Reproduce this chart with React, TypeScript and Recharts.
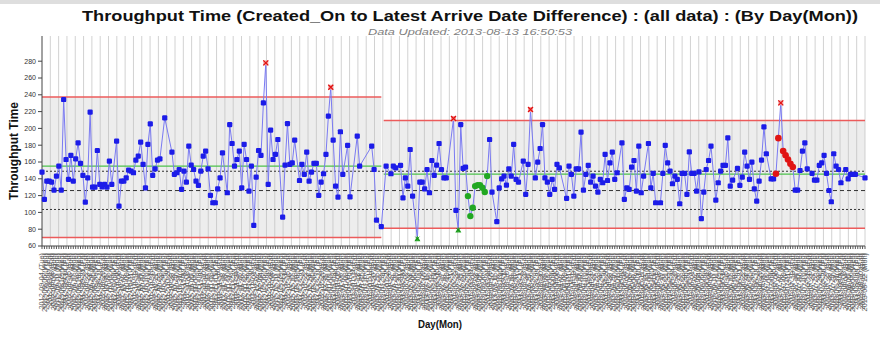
import React from 'react';
import { ComposedChart, Line, XAxis, YAxis, CartesianGrid, ReferenceLine, ReferenceArea } from 'recharts';

// Daily throughput time values (null = no data that day)
const values: (number | null)[] = [
  148, 115.4, 137.2, 137.2, 136, 126.5, 143.2, 155, 126.5, 234.4,
  163, 139.2, 167.8, 137.2, 163.8, 182.8, 158.3, 144, 112.3, 141.2,
  219.3, 130.1, 130.1, 173.7, 133.3, 130.5, 133.3, 130.1, 161, 133.3,
  null, 184.8, 107.5, 137.2, 137.2, 141.2, 150.3, 149.1, 147.2, 162.2,
  167, 183.6, 157.1, 129.3, 180.9, 205.4, 144, 151.9, 162.2, 163.8,
  null, 212.6, null, null, 171.7, 145.2, 147.2, 151.1, 127.3, 149.1,
  136, 178.9, 156.3, 151.1, 137.2, 132.1, 149.1, 167, 173, 151.9,
  120.2, 111.5, 111.5, 128.1, 141.2, 170.9, null, 123.4, 204.6, 182,
  155.1, 163, 172.9, 129.3, 180.9, 163, 125.4, 155.1, 84.5, 142,
  173.7, 167.8, 230.4, 278, 133.3, 197.9, 163, 169, 186.8, null,
  94.4, 156.3, 205.8, 157.1, 159, 186, null, 138, 157.1, 145.2,
  171.7, 137.2, 148, 158.3, 158.3, 120.2, 136, 146, 169, 214.5,
  249, 186, 131.3, 118.2, 196, 145.2, null, 179.7, 118.6, null,
  null, 190.8, 155.1, null, null, null, null, 178.9, 151.1, 90.9,
  null, 83, null, 155.1, null, 146, 155.1, 153.1, null, 155.9,
  117.4, 141.2, 131.3, 174.9, 119.4, null, 68.7, 136, 136, 128.1,
  151.1, 123.4, 161.8, 144, 156.3, 182, 151.1, 141.2, 141.2, null,
  null, 211.8, 102.4, 79, 204.6, 152.3, 153.9, 119.4, 95.6, 105.5,
  131.3, 132.5, 132.5, 129.3, 124.2, 143.2, 186.8, 124.2, null, 88.9,
  129.3, 140, 143.2, 132.5, 151.9, 143.2, 180.9, 139.2, 136, null,
  161, 121.4, 157.1, 222.5, null, 141.2, 159.8, 176.1, 204.6, 141.2,
  136, 121.4, 139.2, 127.3, 157.1, 153.1, null, null, 116.6, 155.1,
  145.2, 119.4, 151.9, 151.9, 195.5, 126.5, 145.2, 155.9, 136, 143.2,
  131.3, 124.2, 139.2, 135.3, 169, 138, 159, 171.7, 139.2, 147.2,
  null, 182.8, 115.4, 129.3, 127.3, 153.9, 161.8, 125.4, 178.9, 123.4,
  143.2, null, 182, 129.3, 146.4, 111.5, null, 111.5, 146.4, 179.7,
  159, 149.1, 134.1, 143.2, 139.2, 110.3, 146.4, 146.4, 121.4, 172.1,
  146.4, 146.4, 125.4, 148.3, 92.5, 124.2, 151.1, 161.8, 178.9, null,
  114.6, 135.3, 149.1, 155.9, 155.9, 188.8, 131.3, 138.4, null, 152.3,
  132.1, 142, 171.7, 155.1, 139.2, 159.8, 128.1, 113.5, 137.2, 162.2,
  201.9, 169.8, null, 140, 140, 146, 188.4, 230.4, 173, 168,
  163, 158, 154, 126.5, 126.5, 149.9, 172.9, 182.8, 151.9, null,
  146.4, 138.4, 138.4, 155.9, 159, 167.8, 146.4, 126.1, 112.7, 169.8,
  155.1, 151.1, 135.3, null, 151.1, 140, 145.2, 145.2, 145.2, null,
  null, null, 141.2,
];

// Control limit segments
const segmentStarts = [0, 142];
const uclValues = [237.5, 209.5];
const clValues = [155, 145.5];
const lclValues = [70, 81];
const refDotted = [149, 103.5];
const refDashed = [126];

// Rule flags (indices into values)
const outOfControlIdx = [93, 120, 171, 203, 307];
const belowLimitIdx = [156, 173];
const runRuleIdx = [177, 178, 179, 180, 181, 182, 183, 184, 185];
const trendIdx = [305, 306, 308, 309, 310, 311, 312];

const yTicks = [60, 80, 100, 120, 140, 160, 180, 200, 220, 240, 260, 280];

const WEEK = ['Sun', 'Mon', 'Tue', 'Wed', 'Thu', 'Fri', 'Sat'];
const START = Date.UTC(2012, 8, 4);
const pad = (n: number) => (n < 10 ? '0' + n : '' + n);
const categories = values.map((_, i) => {
  const d = new Date(START + i * 86400000);
  return `${d.getUTCFullYear()}-${pad(d.getUTCMonth() + 1)}-${pad(d.getUTCDate())} (${WEEK[d.getUTCDay()]})`;
});

const data = values.map((v, i) => {
  const s = i >= segmentStarts[1] ? 1 : 0;
  const row: any = { day: categories[i], v };
  row[`ucl${s}`] = uclValues[s];
  row[`cl${s}`] = clValues[s];
  row[`lcl${s}`] = lclValues[s];
  return row;
});

const FONT = '"Liberation Sans", Arial, sans-serif';

const renderDot = (props: any) => {
  const { cx, cy, index, payload } = props;
  const key = `d${index}`;
  if (payload == null || payload.v == null || cx == null || cy == null) return <g key={key} />;
  if (outOfControlIdx.includes(index)) {
    return (
      <g key={key}>
        <rect x={cx - 2.5} y={cy - 2.5} width={5} height={5} fill="#f5a3a3" />
        <path d={`M${cx - 2.5},${cy - 2.5}L${cx + 2.5},${cy + 2.5}M${cx + 2.5},${cy - 2.5}L${cx - 2.5},${cy + 2.5}`} stroke="#e01010" strokeWidth={1.2} />
      </g>
    );
  }
  if (belowLimitIdx.includes(index)) {
    return (
      <g key={key}>
        <path d={`M${cx},${cy - 3}L${cx + 3},${cy + 2.5}L${cx - 3},${cy + 2.5}Z`} fill="#30b030" />
        <path d={`M${cx - 2},${cy - 2}L${cx + 2},${cy + 2}M${cx + 2},${cy - 2}L${cx - 2},${cy + 2}`} stroke="#108010" strokeWidth={0.8} />
      </g>
    );
  }
  if (runRuleIdx.includes(index)) {
    return <circle key={key} cx={cx} cy={cy} r={3.2} fill="#22a822" />;
  }
  if (trendIdx.includes(index)) {
    return <circle key={key} cx={cx} cy={cy} r={3.3} fill="#e01515" />;
  }
  return <rect key={key} x={cx - 2.6} y={cy - 2.6} width={5.2} height={5.2} rx={1.2} fill="#1c1ce8" />;
};

const XTick = (props: any) => {
  const { x, y, payload } = props;
  return (
    <text
      x={x}
      y={y + 2}
      transform={`rotate(-90 ${x} ${y + 2})`}
      textAnchor="end"
      dy="0.33em"
      fontSize={7.3}
      fontFamily={FONT}
      fill="#5e5e5e"
    >
      {payload.value}
    </text>
  );
};

const gridGen = ({ offset }: any) => {
  const n = 99;
  const out: number[] = [];
  for (let i = 1; i <= n; i++) out.push(offset.left + (offset.width * i) / n);
  return out;
};

export default function App() {
  const last = categories.length - 1;
  return (
    <div style={{ position: 'absolute', left: 0, top: 0, width: 880, height: 357, background: '#fff', overflow: 'hidden' }}>
      <div style={{ position: 'absolute', left: 0, top: 0, width: 880, height: 4, background: '#dedede' }} />
      <ComposedChart width={880} height={357} data={data} margin={{ top: 36, right: 15, left: 0, bottom: 0 }}>
        <CartesianGrid horizontal={false} vertical stroke="#d2d2d2" verticalCoordinatesGenerator={gridGen} />
        <ReferenceArea x1={categories[0]} x2={categories[segmentStarts[1] - 1]} y1={lclValues[0]} y2={uclValues[0]} fill="#bdbdbd" fillOpacity={0.28} stroke="none" />
        <ReferenceArea x1={categories[segmentStarts[1]]} x2={categories[last]} y1={lclValues[1]} y2={uclValues[1]} fill="#bdbdbd" fillOpacity={0.28} stroke="none" />
        <XAxis
          dataKey="day"
          type="category"
          interval={0}
          height={111}
          tick={<XTick />}
          tickSize={3}
          tickLine={{ stroke: '#555' }}
          axisLine={{ stroke: '#444' }}
        />
        <YAxis
          type="number"
          domain={[60, 310]}
          ticks={yTicks}
          width={42}
          tickSize={4}
          tickMargin={2}
          tick={{ fontSize: 7, fill: '#333', fontFamily: FONT }}
          tickLine={{ stroke: '#444' }}
          axisLine={{ stroke: '#444' }}
        />
        {refDotted.map((y) => (
          <ReferenceLine key={`dt${y}`} y={y} stroke="#333" strokeDasharray="2 2" />
        ))}
        {refDashed.map((y) => (
          <ReferenceLine key={`ds${y}`} y={y} stroke="#333" strokeDasharray="4 3" />
        ))}
        {[0, 1].map((s) => (
          <Line key={`ucl${s}`} dataKey={`ucl${s}`} stroke="#ec5b5b" strokeWidth={1.5} dot={false} activeDot={false} isAnimationActive={false} />
        ))}
        {[0, 1].map((s) => (
          <Line key={`lcl${s}`} dataKey={`lcl${s}`} stroke="#ec5b5b" strokeWidth={1.5} dot={false} activeDot={false} isAnimationActive={false} />
        ))}
        {[0, 1].map((s) => (
          <Line key={`cl${s}`} dataKey={`cl${s}`} stroke="#4cc24c" strokeWidth={1.3} dot={false} activeDot={false} isAnimationActive={false} />
        ))}
        <Line
          dataKey="v"
          stroke="#7a7af2"
          strokeWidth={1}
          connectNulls
          dot={renderDot}
          activeDot={false}
          isAnimationActive={false}
        />
      </ComposedChart>
      <svg width={880} height={357} style={{ position: 'absolute', left: 0, top: 0, pointerEvents: 'none' }}>
        <text x={470} y={21} textAnchor="middle" fontFamily={FONT} fontWeight="bold" fontSize={15.5} fill="#111" textLength={776} lengthAdjust="spacingAndGlyphs">
          Throughput Time (Created_On to Latest Arrive Date Difference) : (all data) : (By Day(Mon))
        </text>
        <text x={470} y={35} textAnchor="middle" fontFamily={FONT} fontStyle="italic" fontSize={9.5} fill="#808080" textLength={204} lengthAdjust="spacingAndGlyphs">
          Data Updated: 2013-08-13 16:50:53
        </text>
        <text x={18} y={151} transform="rotate(-90 18 151)" textAnchor="middle" fontFamily={FONT} fontWeight="bold" fontSize={12} fill="#111" textLength={98} lengthAdjust="spacingAndGlyphs">
          Throughput Time
        </text>
        <text x={440} y={328} textAnchor="middle" fontFamily={FONT} fontWeight="bold" fontSize={10.5} fill="#111" textLength={44} lengthAdjust="spacingAndGlyphs">
          Day(Mon)
        </text>
      </svg>
    </div>
  );
}
